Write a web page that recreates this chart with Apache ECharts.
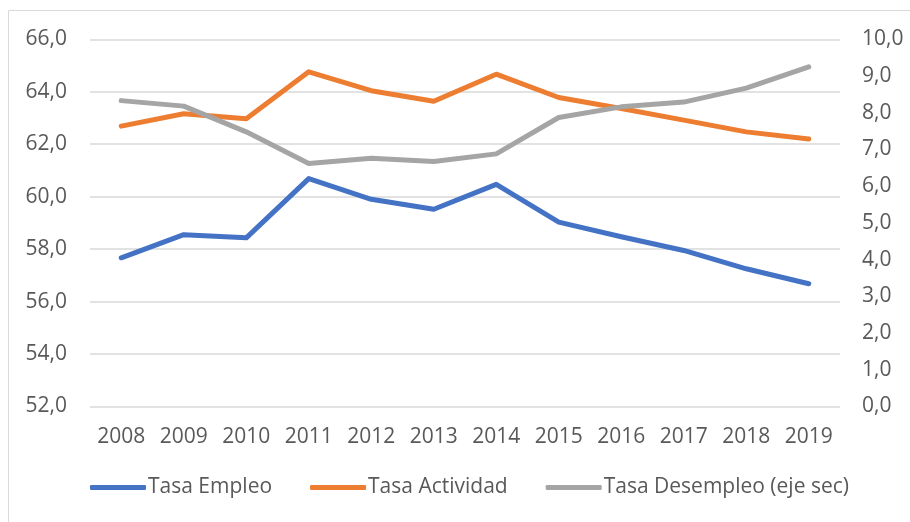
<!DOCTYPE html>
<html>
<head>
<meta charset="utf-8">
<script src="https://cdn.jsdelivr.net/npm/echarts@6/dist/echarts.min.js"></script>
<style>
html,body{margin:0;padding:0;background:#fff;}
#chart{width:910px;height:522px;}
</style>
</head>
<body>
<div id="chart"></div>
<script>
const years = ['2008','2009','2010','2011','2012','2013','2014','2015','2016','2017','2018','2019'];
const tasaEmpleo = [57.67, 58.55, 58.43, 60.69, 59.90, 59.52, 60.47, 59.03, 58.47, 57.95, 57.25, 56.68];
const tasaActividad = [62.69, 63.16, 62.97, 64.76, 64.04, 63.64, 64.67, 63.78, 63.36, 62.92, 62.47, 62.20];
const tasaDesempleo = [8.33, 8.18, 7.48, 6.62, 6.76, 6.67, 6.88, 7.87, 8.16, 8.29, 8.67, 9.25];
const seriesNames = ['Tasa Empleo', 'Tasa Actividad', 'Tasa Desempleo (eje sec)'];

const FONT = 'Open Sans';
const TXT = '#595959';
const chart = echarts.init(document.getElementById('chart'), null, {renderer: 'canvas'});
const fmt = v => v.toFixed(1).replace('.', ',');
chart.setOption({
  animation: false,
  backgroundColor: '#ffffff',
  graphic: [{
    type: 'rect', silent: true, z: -10,
    shape: {x: 8.5, y: 10.5, width: 1000, height: 1000},
    style: {fill: 'none', stroke: '#D9D9D9', lineWidth: 1}
  }],
  grid: {left: 90, right: 70, top: 39.3, bottom: 115.5, containLabel: false},
  legend: {
    left: 90, top: 477, padding: 0,
    itemWidth: 56, itemHeight: 5, itemGap: 38,
    icon: 'roundRect',
    textStyle: {fontFamily: FONT, fontSize: 21, color: TXT, padding: [0,0,0,-3]},
    data: seriesNames
  },
  xAxis: {
    type: 'category', data: years, boundaryGap: true,
    axisLine: {show: false}, axisTick: {show: false},
    axisLabel: {fontFamily: FONT, fontSize: 21, color: TXT, margin: 20}
  },
  yAxis: [{
    type: 'value', min: 52, max: 66, interval: 2,
    axisLine: {show: false}, axisTick: {show: false},
    axisLabel: {fontFamily: FONT, fontSize: 21, color: TXT, margin: 23, formatter: fmt},
    splitLine: {lineStyle: {color: '#D9D9D9', width: 1.5}}
  }, {
    type: 'value', min: 0, max: 10, interval: 1, position: 'right',
    axisLine: {show: false}, axisTick: {show: false},
    axisLabel: {fontFamily: FONT, fontSize: 21, color: TXT, margin: 22, formatter: fmt},
    splitLine: {show: false}
  }],
  series: [{
    name: seriesNames[0], type: 'line', data: tasaEmpleo, yAxisIndex: 0,
    symbol: 'none', color: '#4472C4',
    lineStyle: {width: 5, cap: 'round', join: 'round'}, z: 3
  }, {
    name: seriesNames[1], type: 'line', data: tasaActividad, yAxisIndex: 0,
    symbol: 'none', color: '#ED7D31',
    lineStyle: {width: 5, cap: 'round', join: 'round'}, z: 4
  }, {
    name: seriesNames[2], type: 'line', data: tasaDesempleo, yAxisIndex: 1,
    symbol: 'none', color: '#A5A5A5',
    lineStyle: {width: 5, cap: 'round', join: 'round'}, z: 5
  }]
});
</script>
</body>
</html>
